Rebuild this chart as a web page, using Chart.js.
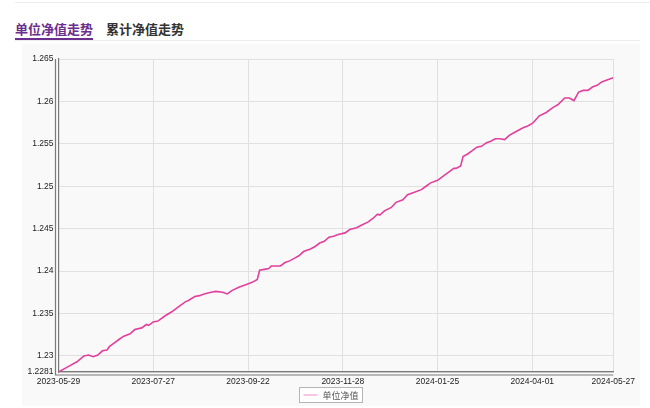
<!DOCTYPE html>
<html>
<head>
<meta charset="utf-8">
<script src="https://cdn.jsdelivr.net/npm/chart.js@4.4.1/dist/chart.umd.min.js"></script>
<style>
  body { margin: 0; width: 650px; height: 408px; background: #fff; position: relative; overflow: hidden;
         font-family: "Noto Sans CJK SC", "Liberation Sans", sans-serif; }
  .topline { position: absolute; left: 15px; right: 0; top: 0; height: 2px; border-bottom: 1px solid #ececec; }
  .tabs { position: absolute; left: 15px; right: 10px; top: 20px; height: 20px; border-bottom: 1px solid #ececec; }
  .tab { position: absolute; top: 0; font-size: 13px; font-weight: bold; line-height: 18px; }
  .tab.on { left: 0; color: #6b2d8e; border-bottom: 2px solid #6b2d8e; height: 18px; }
  .tab.off { left: 91px; color: #333; }
  .panel { position: absolute; left: 22px; top: 44px; width: 618px; height: 362px; background: #f9f9f9; }
</style>
</head>
<body>
<div class="topline"></div>
<div class="tabs">
  <div class="tab on">单位净值走势</div>
  <div class="tab off">累计净值走势</div>
</div>
<div class="panel"><canvas id="nav-chart"></canvas></div>
<script>
const tickIdx = [0, 41, 82, 123, 164, 205, 240];
const tickLabels = ["2023-05-29", "2023-07-27", "2023-09-22", "2023-11-28", "2024-01-25", "2024-04-01", "2024-05-27"];
const yTicks = [1.2281, 1.23, 1.235, 1.24, 1.245, 1.25, 1.255, 1.26, 1.265];
const seriesName = "单位净值";

// trading-day index (0 = 2023-05-29) and the unit NAV read at it
const dayIdx = [
  0, 4, 8, 11, 13, 15, 17, 19, 21, 22,
  24, 26, 28, 31, 33, 36, 38, 39, 41, 43,
  46, 49, 52, 55, 56, 59, 61, 63, 66, 68,
  71, 73, 75, 78, 81, 83, 84, 86, 87, 89,
  91, 92, 94, 96, 98, 100, 102, 104, 106, 109,
  111, 113, 115, 117, 119, 121, 124, 126, 129, 131,
  134, 136, 138, 139, 141, 144, 146, 149, 151, 154,
  157, 159, 161, 164, 167, 169, 171, 172, 174, 175,
  177, 179, 181, 183, 185, 187, 189, 191, 193, 195,
  197, 199, 201, 203, 205, 206, 208, 211, 214, 216,
  219, 221, 223, 225, 227, 229, 231, 233, 235, 237,
  240
];
const nav = [
  1.2281, 1.2287, 1.2293, 1.2300, 1.2301, 1.2299, 1.2301, 1.2306, 1.2307, 1.2311,
  1.2315, 1.2319, 1.2323, 1.2326, 1.2331, 1.2333, 1.2337, 1.2336, 1.2340, 1.2341,
  1.2347, 1.2352, 1.2358, 1.2364, 1.2365, 1.2370, 1.2371, 1.2373, 1.2375, 1.2376,
  1.2375, 1.2373, 1.2377, 1.2381, 1.2384, 1.2386, 1.2387, 1.2390, 1.2401, 1.2402,
  1.2403, 1.2406, 1.2406, 1.2406, 1.2410, 1.2412, 1.2415, 1.2418, 1.2423, 1.2426,
  1.2429, 1.2433, 1.2435, 1.2440, 1.2441, 1.2443, 1.2445, 1.2449, 1.2451, 1.2454,
  1.2458, 1.2462, 1.2467, 1.2466, 1.2471, 1.2475, 1.2481, 1.2484, 1.2490, 1.2493,
  1.2496, 1.2500, 1.2504, 1.2507, 1.2513, 1.2517, 1.2521, 1.2521, 1.2524, 1.2535,
  1.2538, 1.2542, 1.2546, 1.2547, 1.2551, 1.2553, 1.2556, 1.2556, 1.2555, 1.2560,
  1.2563, 1.2566, 1.2569, 1.2571, 1.2574, 1.2577, 1.2583, 1.2587, 1.2593, 1.2596,
  1.2604, 1.2604, 1.2601, 1.2611, 1.2613, 1.2613, 1.2617, 1.2619, 1.2623, 1.2625,
  1.2628
];

const lineColor = "#e2409c";
const tickFont = { family: "Liberation Sans", size: 8.5 };

// double axis lines + boxed legend under the axis
const frame = {
  id: "frame",
  afterDraw(chart) {
    const ctx = chart.ctx;
    const a = chart.chartArea;
    ctx.save();
    ctx.strokeStyle = "#7a7a7a";
    ctx.lineWidth = 1.2;
    ctx.beginPath();
    ctx.moveTo(a.left - 3, a.top);
    ctx.lineTo(a.left - 3, a.bottom + 3);
    ctx.lineTo(a.right, a.bottom + 3);
    ctx.stroke();

    ctx.font = "9px 'Noto Sans CJK SC'";
    const tw = ctx.measureText(seriesName).width;
    const w = tw + 27, h = 15;
    const x0 = Math.round(chart.width / 2 - w / 2) + 0.5;
    const y0 = chart.height - 18.5;
    ctx.fillStyle = "#fff";
    ctx.fillRect(x0, y0, w, h);
    ctx.strokeStyle = "#b5b5b5";
    ctx.lineWidth = 1;
    ctx.strokeRect(x0, y0, w, h);
    ctx.strokeStyle = "#ec8cc4";
    ctx.beginPath();
    ctx.moveTo(x0 + 4, y0 + h / 2);
    ctx.lineTo(x0 + 18, y0 + h / 2);
    ctx.stroke();
    ctx.fillStyle = "#555";
    ctx.textBaseline = "middle";
    ctx.fillText(seriesName, x0 + 23, y0 + h / 2 + 0.5);
    ctx.restore();
  }
};

new Chart(document.getElementById("nav-chart"), {
  type: "line",
  data: {
    datasets: [{
      label: seriesName,
      data: dayIdx.map((d, i) => ({ x: d, y: nav[i] })),
      borderColor: lineColor,
      borderWidth: 1.6,
      pointRadius: 0,
      tension: 0
    }]
  },
  options: {
    responsive: true,
    maintainAspectRatio: false,
    animation: false,
    layout: { padding: { top: 15, right: 21.5, bottom: 19, left: 0 } },
    plugins: { legend: { display: false }, tooltip: { enabled: false } },
    scales: {
      x: {
        type: "linear",
        min: 0,
        max: 240,
        afterBuildTicks: axis => { axis.ticks = tickIdx.map(v => ({ value: v })); },
        afterFit: axis => { axis.height = 15; },
        grid: { color: "#e0e0e0", drawTicks: false },
        border: { color: "#7a7a7a", width: 1.2 },
        ticks: {
          autoSkip: false,
          maxRotation: 0,
          padding: 5,
          color: "#222",
          font: tickFont,
          callback: v => tickLabels[tickIdx.indexOf(v)]
        }
      },
      y: {
        min: 1.2281,
        max: 1.265,
        afterBuildTicks: axis => { axis.ticks = yTicks.map(v => ({ value: v })); },
        afterFit: axis => { axis.width = 36.5; },
        grid: { color: "#e0e0e0", drawTicks: false },
        border: { color: "#7a7a7a", width: 1.2 },
        ticks: {
          padding: 5,
          color: "#222",
          font: tickFont,
          callback: v => String(+v.toFixed(4))
        }
      }
    }
  },
  plugins: [frame]
});
</script>
</body>
</html>
